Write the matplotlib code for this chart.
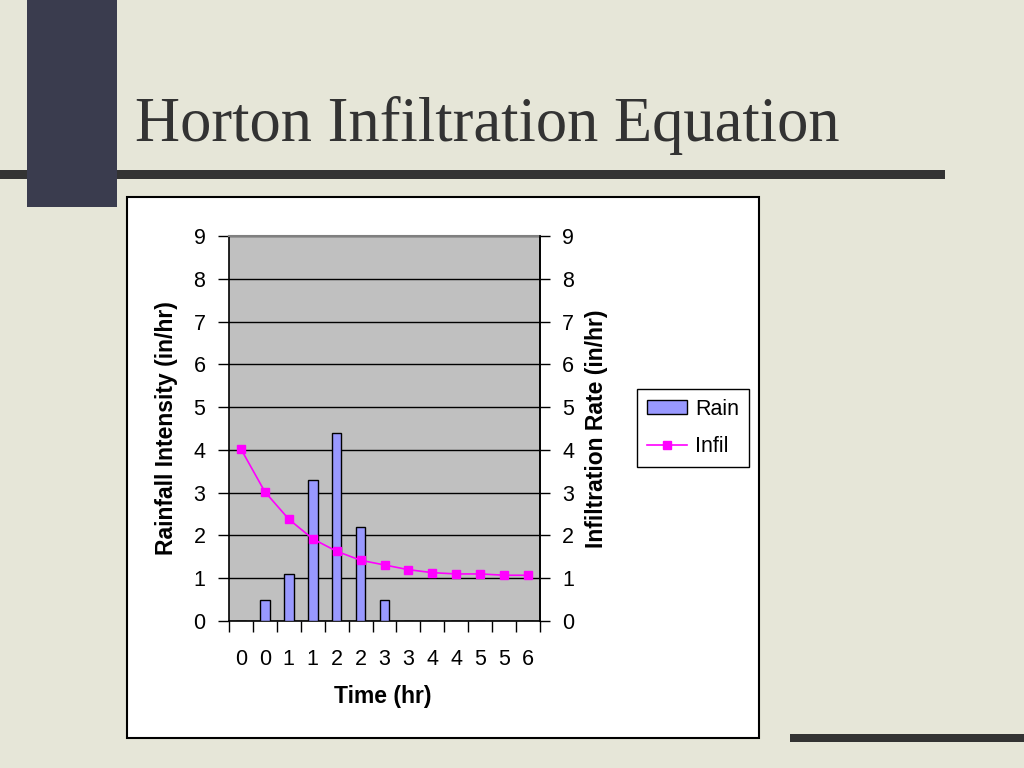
import matplotlib
matplotlib.use("Agg")
import matplotlib.pyplot as plt
from matplotlib.patches import Rectangle
from matplotlib.lines import Line2D
import numpy as np

# ---- data ----
time_labels = ["0", "0", "1", "1", "2", "2", "3", "3", "4", "4", "5", "5", "6"]
rain = [0.0, 0.5, 1.1, 3.3, 4.4, 2.2, 0.5, 0.0, 0.0, 0.0, 0.0, 0.0, 0.0]
infil = [4.02, 3.02, 2.38, 1.92, 1.63, 1.42, 1.31, 1.2, 1.13, 1.1, 1.1, 1.07, 1.07]
y_ticks = [0, 1, 2, 3, 4, 5, 6, 7, 8, 9]

W, H = 1024, 768
fig = plt.figure(figsize=(W / 100, H / 100), dpi=100)
fig.patch.set_facecolor("#E6E6D8")

def fx(x):
    return x / W

def fy(y):
    return 1 - y / H

def rect(x0, y0, x1, y1, **kw):
    fig.patches.append(Rectangle((fx(x0), fy(y1)), fx(x1) - fx(x0), fy(y0) - fy(y1),
                                 transform=fig.transFigure, **kw))

# slide decorations
rect(0, 170, 945, 179, facecolor="#333333", edgecolor="none", zorder=1)
rect(27, 0, 117, 207, facecolor="#3A3C4E", edgecolor="none", zorder=2)
rect(790, 734, 1024, 742, facecolor="#333333", edgecolor="none", zorder=1)
# chart box
rect(127, 197, 759, 738, facecolor="white", edgecolor="black", linewidth=1.5, zorder=3)

fig.text(fx(135), fy(141), "Horton Infiltration Equation", family="Liberation Serif",
         fontsize=45, color="#333333", ha="left", va="baseline", zorder=5)

# ---- axes ----
ax = fig.add_axes([fx(229), fy(621), fx(540) - fx(229), fy(236) - fy(621)], zorder=4)
ax.set_facecolor("#C0C0C0")
x = np.arange(len(time_labels))
ax.bar(x, rain, width=0.4, color="#9999FF", edgecolor="black", linewidth=1, zorder=3)
ax.plot(x, infil, color="#FF00FF", linewidth=1.2, marker="s", markersize=6,
        markerfacecolor="#FF00FF", markeredgecolor="#FF00FF", zorder=4)
ax.set_xlim(-0.5, len(time_labels) - 0.5)
ax.set_ylim(0, 9)
ax.set_yticks(y_ticks)
ax.yaxis.grid(True, color="black", linewidth=1)
ax.set_axisbelow(True)
ax.set_xticks(np.arange(-0.5, len(time_labels), 1.0))
ax.set_xticklabels([])
ax.set_xticks(x, minor=True)
ax.set_xticklabels(time_labels, minor=True)
ax.tick_params(axis="x", which="major", direction="out", length=8, width=1)
ax.tick_params(axis="x", which="minor", length=0, pad=20, labelsize=15.5)
ax.tick_params(axis="y", direction="out", length=8, width=1, pad=9, labelsize=15.5)
for s in ["left", "bottom", "right"]:
    ax.spines[s].set_color("black")
    ax.spines[s].set_linewidth(1.2)
ax.spines["top"].set_color("#808080")
ax.spines["top"].set_linewidth(1.5)

ax2 = ax.twinx()
ax2.set_ylim(0, 9)
ax2.set_yticks(y_ticks)
ax2.tick_params(axis="y", direction="out", length=7, width=1, pad=9, labelsize=15.5)
for s in ["left", "top", "bottom"]:
    ax2.spines[s].set_visible(False)
ax2.spines["right"].set_linewidth(1.2)

fig.text(fx(166), fy(428), "Rainfall Intensity (in/hr)", rotation=90, fontsize=16.5,
         fontweight="bold", ha="center", va="center", family="Liberation Sans", zorder=6)
fig.text(fx(597), fy(429), "Infiltration Rate (in/hr)", rotation=90, fontsize=16.5,
         fontweight="bold", ha="center", va="center", family="Liberation Sans", zorder=6)
fig.text(fx(383), fy(697), "Time (hr)", fontsize=16.5, fontweight="bold",
         ha="center", va="center", family="Liberation Sans", zorder=6)

for a in (ax, ax2):
    for lab in a.get_yticklabels() + a.get_xticklabels(minor=True):
        lab.set_family("Liberation Sans")

handles = [Rectangle((0, 0), 1, 1, facecolor="#9999FF", edgecolor="black", linewidth=1),
           Line2D([0], [0], color="#FF00FF", marker="s", markersize=6, linewidth=1.2)]
leg = fig.legend(handles, ["Rain", "Infil"], loc="upper left",
                 bbox_to_anchor=(fx(637), fy(389)), frameon=True, fancybox=False,
                 edgecolor="black", framealpha=1, borderpad=0.45, handlelength=1.85,
                 handleheight=0.6,
                 prop={"family": "Liberation Sans", "size": 15.5}, borderaxespad=0,
                 labelspacing=0.75, handletextpad=0.4)
leg.get_frame().set_linewidth(1)
leg.set_zorder(7)

fig.savefig("out.png", dpi=100, facecolor=fig.get_facecolor())
